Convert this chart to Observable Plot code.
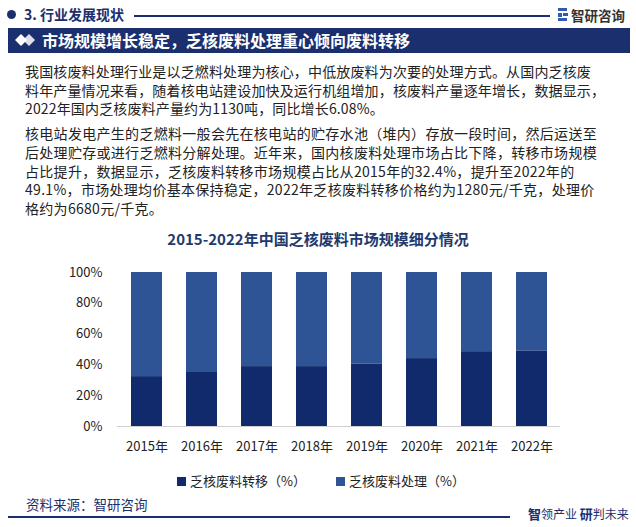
<!DOCTYPE html>
<html><head><meta charset="utf-8">
<script src="https://cdn.jsdelivr.net/npm/d3@7"></script>
<script src="https://cdn.jsdelivr.net/npm/@observablehq/plot@0.6"></script>
<style>
html,body{margin:0;padding:0;background:#fff;}
body{width:636px;height:527px;position:relative;overflow:hidden;font-family:"Noto Sans CJK SC","Noto Sans",sans-serif;color:#222;}
.abs{position:absolute;}
</style></head>
<body>
<script>
const years = ["2015年","2016年","2017年","2018年","2019年","2020年","2021年","2022年"];
const transferShare = [32.4, 35.6, 38.9, 38.9, 40.4, 44.1, 48.6, 49.1];
const processShare = [67.6, 64.4, 61.1, 61.1, 59.6, 55.9, 51.4, 50.9];
const seriesNames = ["乏核废料转移（%）", "乏核废料处理（%）"];
const seriesColors = ["#102a6c", "#2f5496"];
const yTicks = [0, 20, 40, 60, 80, 100];
</script>

<!-- header row -->
<div class="abs" style="left:7px;top:10px;width:9px;height:9px;border-radius:50%;background:#1b2f6e;"></div>
<div class="abs" style="left:24px;top:4px;font-size:14px;font-weight:bold;color:#1b2f6e;line-height:20px;">3. 行业发展现状</div>
<div class="abs" style="left:134px;top:15px;width:416px;height:1.5px;background:#1b2f6e;"></div>
<svg class="abs" style="left:558px;top:8px;" width="12" height="14"><rect x="0" y="0" width="9" height="3" fill="#2f5cb0"/><rect x="0" y="5" width="4" height="4" fill="#2f5cb0"/><rect x="5" y="5" width="5" height="3" fill="#2f5cb0"/><rect x="0" y="10" width="9" height="3" fill="#2f5cb0"/></svg>
<div class="abs" style="left:571px;top:5px;font-size:13.5px;font-weight:bold;color:#333;line-height:20px;">智研咨询</div>

<!-- banner -->
<div class="abs" style="left:8px;top:28px;width:622px;height:25px;background:#1b2f6e;"></div>
<svg class="abs" style="left:15px;top:33px;" width="22" height="14"><polygon points="6,1 12,7 6,13 0,7" fill="#fff"/><polygon points="14,1 20,7 14,13 8,7" fill="#fff" opacity="0.85"/></svg>
<div class="abs" style="left:42px;top:29px;font-size:16px;font-weight:bold;color:#fff;line-height:23px;">市场规模增长稳定，乏核废料处理重心倾向废料转移</div>

<!-- paragraphs -->
<div class="abs" style="left:25px;top:62px;width:605px;font-size:14px;line-height:18.6px;letter-spacing:0.15px;color:#222;">我国核废料处理行业是以乏燃料处理为核心，中低放废料为次要的处理方式。从国内乏核废<br>料年产量情况来看，随着核电站建设加快及运行机组增加，核废料产量逐年增长，数据显示，<br>2022年国内乏核废料产量约为1130吨，同比增长6.08%。</div>
<div class="abs" style="left:25px;top:124px;width:605px;font-size:14px;line-height:18.8px;letter-spacing:0.3px;color:#222;">核电站发电产生的乏燃料一般会先在核电站的贮存水池（堆内）存放一段时间，然后运送至<br>后处理贮存或进行乏燃料分解处理。近年来，国内核废料处理市场占比下降，转移市场规模<br>占比提升，数据显示，乏核废料转移市场规模占比从2015年的32.4%，提升至2022年的<br>49.1%，市场处理均价基本保持稳定，2022年乏核废料转移价格约为1280元/千克，处理价<br>格约为6680元/千克。</div>

<!-- chart title -->
<div class="abs" style="left:0;width:636px;top:229px;text-align:center;font-size:15px;font-weight:bold;color:#1f3a6e;line-height:20px;">2015-2022年中国乏核废料市场规模细分情况</div>

<div id="chart" class="abs" style="left:0;top:255px;"></div>

<!-- legend -->
<div class="abs" style="left:177px;top:472px;font-size:13px;color:#222;line-height:18px;white-space:nowrap;">
<span style="display:inline-block;width:9px;height:9px;background:#102a6c;margin-right:4px;"></span><span id="lg0"></span>
<span style="display:inline-block;width:9px;height:9px;background:#2f5496;margin-left:27px;margin-right:4px;"></span><span id="lg1"></span>
</div>

<!-- footer -->
<div class="abs" style="left:26px;top:494px;font-size:13.5px;color:#1b2f6e;line-height:20px;">资料来源：智研咨询</div>
<div class="abs" style="left:8px;top:516px;width:502px;height:1.5px;background:#1b2f6e;"></div>
<div class="abs" style="left:528px;top:505px;font-size:12px;color:#1b2f6e;line-height:18px;white-space:nowrap;"><b style="font-size:13px;">智</b>领产业 <b style="font-size:13px;">研</b>判未来</div>

<script>
document.getElementById("lg0").textContent = seriesNames[0];
document.getElementById("lg1").textContent = seriesNames[1];
const rows = [];
years.forEach((y, i) => {
  rows.push({year: y, series: seriesNames[0], value: transferShare[i]});
  rows.push({year: y, series: seriesNames[1], value: processShare[i]});
});
const chart = Plot.plot({
  width: 636,
  height: 205,
  marginLeft: 117,
  marginRight: 76,
  marginTop: 17,
  marginBottom: 34,
  style: {fontFamily: '"Noto Sans CJK SC","Noto Sans",sans-serif', fontSize: "13px", color: "#222", background: "transparent"},
  x: {domain: years, paddingInner: 0.44, paddingOuter: 0.22, label: null, tickSize: 0, tickPadding: 15},
  y: {domain: [0, 100], ticks: yTicks, tickFormat: d => d + "%", label: null, tickSize: 0, tickPadding: 15},
  color: {domain: seriesNames, range: seriesColors},
  marks: [
    Plot.barY(rows, {x: "year", y: "value", fill: "series", order: seriesNames}),
    Plot.ruleY([0], {stroke: "#d0d0d0"})
  ]
});
document.getElementById("chart").appendChild(chart);
</script>
</body></html>
